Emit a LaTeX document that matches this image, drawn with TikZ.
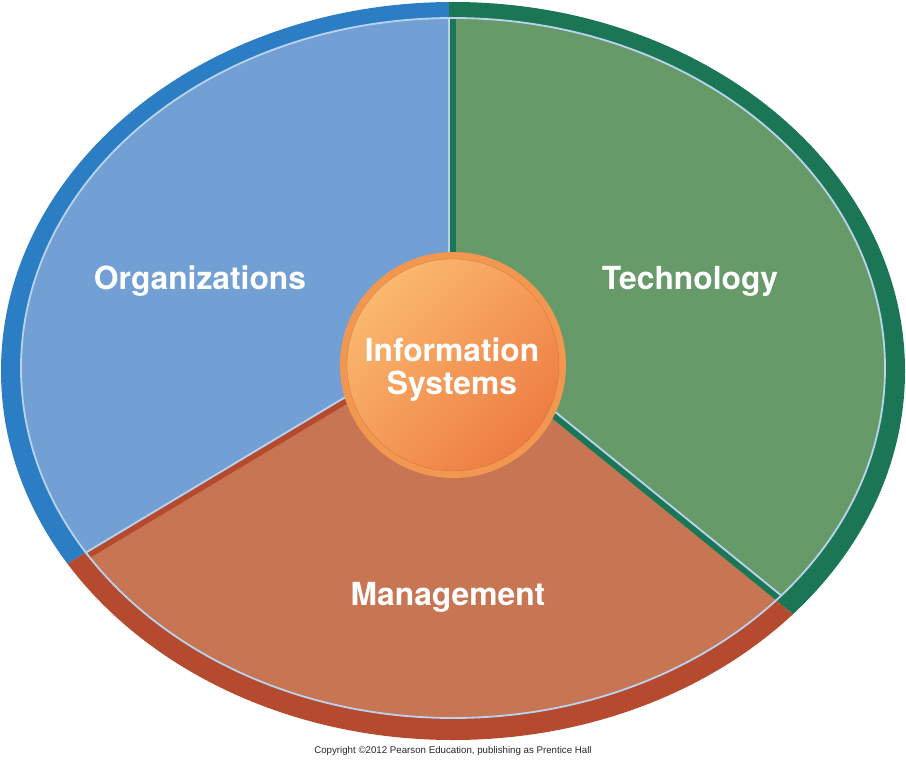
\documentclass[tikz,border=0pt]{standalone}
\usepackage{fontspec}
\setmainfont{TeX Gyre Heros}
\newfontfamily\copyfont{Liberation Sans}
\usetikzlibrary{calc}

\definecolor{orgFill}{HTML}{729FD4}
\definecolor{orgRim}{HTML}{2B7DC4}
\definecolor{techFill}{HTML}{669A69}
\definecolor{techRim}{HTML}{1B7656}
\definecolor{mgmtFill}{HTML}{C87553}
\definecolor{mgmtRim}{HTML}{B54A2F}
\definecolor{edgeLight}{HTML}{B9D3EE}
\definecolor{isRing}{HTML}{F2974F}
\definecolor{isLight}{HTML}{FAB86E}
\definecolor{isDark}{HTML}{EE7D42}

\begin{document}
\begin{tikzpicture}
    [x=0.025cm, y=-0.025cm,
     Label/.style={text=white, font=\bfseries\fontsize{22.6}{23.5}\selectfont, align=center},
     Light/.style={draw=edgeLight, line width=1.3pt},
     Stripe/.style={line width=4.4pt}]
	\useasboundingbox (0,0) rectangle (906,768);
	\coordinate (H) at (449,335);
	\coordinate (Top) at (449,-60);
	\coordinate (Left) at (-60,640);
	\coordinate (Right) at (960,750);
	\coordinate (NW) at (-60,-60);
	\coordinate (NE) at (960,-60);
	\coordinate (SW) at (-60,820);
	\coordinate (SE) at (960,820);
	% rim
	\begin{scope}
		\clip (453,371) ellipse [x radius=452, y radius=369];
		\fill[orgRim] (H) -- (Top) -- (NW) -- (Left) -- cycle;
		\fill[techRim] (H) -- (Top) -- (NE) -- (Right) -- cycle;
		\fill[mgmtRim] (H) -- (Left) -- (SW) -- (SE) -- (Right) -- cycle;
	\end{scope}
	% sectors
	\begin{scope}
		\clip (453,368) ellipse [x radius=432, y radius=350];
		\fill[orgFill] (H) -- (Top) -- (NW) -- (Left) -- cycle;
		\fill[techFill] (H) -- (Top) -- (NE) -- (Right) -- cycle;
		\fill[mgmtFill] (H) -- (Left) -- (SW) -- (SE) -- (Right) -- cycle;
		\draw[Stripe, techRim] ($(H)+(3.5,0)$) -- ($(Top)+(3.5,0)$);
		\draw[Stripe, mgmtRim] ($(H)+(1.8,3)$) -- ($(Left)+(1.8,3)$);
		\draw[Stripe, techRim] ($(H)+(2.2,-2.7)$) -- ($(Right)+(2.2,-2.7)$);
		\draw[Light] (H) -- (Top);
		\draw[Light] (H) -- (Left);
		\draw[Light] ($(H)+(4.6,-5.6)$) -- ($(Right)+(4.6,-5.6)$);
	\end{scope}
	\draw[Light] (453,368) ellipse [x radius=432, y radius=350];
	% hub
	\coordinate (IS) at (453,365);
	\fill[isRing] (IS) circle [radius=113];
	\shade[top color=isLight, bottom color=isDark, shading angle=45] (IS) circle [radius=106];
	\draw[isDark!85!black, line width=0.4pt, opacity=0.5] (IS) circle [radius=106];
	\node[Label, anchor=base] (Org) at (200,289) {Organizations};
	\node[Label, anchor=base] (Tech) at (690,289) {Technology};
	\node[Label, anchor=base] (Mgmt) at (448,605) {Management};
	\node[Label] (IS.Text) at (452,370) {Information\\Systems};
	\node[font=\copyfont\fontsize{6.9}{8}\selectfont, text=black!85] (Copy) at (453,751)
		{Copyright ©2012 Pearson Education, publishing as Prentice Hall};
\end{tikzpicture}
\end{document}
